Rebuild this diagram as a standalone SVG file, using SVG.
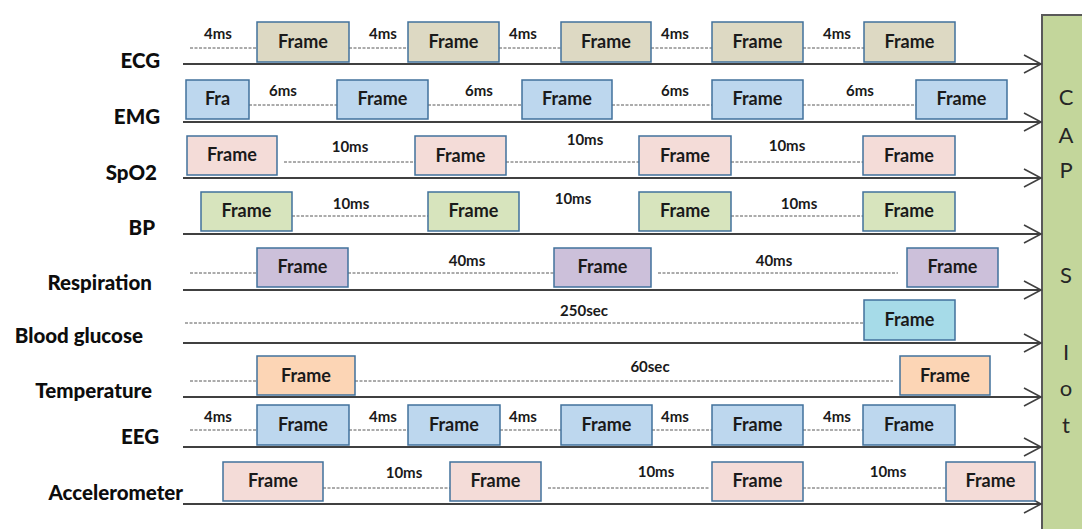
<svg xmlns="http://www.w3.org/2000/svg" width="1082" height="529" viewBox="0 0 1082 529">
<style>
  .fr { stroke: #41719c; stroke-width: 1.5; }
  .ecg { fill: #ddd9c3; }
  .blue { fill: #bdd7ee; }
  .pink { fill: #f4dcd8; }
  .green { fill: #d7e4bd; }
  .lav { fill: #ccc0da; }
  .cyan { fill: #a6dbe8; }
  .peach { fill: #fcd5b5; }
  .ft { font-family: Lato, "Liberation Sans", sans-serif; font-weight: bold; font-size: 18px; fill: #1a1a1a; text-anchor: middle; }
  .lbl { font-family: Lato, "Liberation Sans", sans-serif; font-weight: 900; font-size: 20.5px; fill: #0d0d0d; }
  .tm { font-family: Lato, "Liberation Sans", sans-serif; font-weight: bold; font-size: 15px; fill: #1a1a1a; text-anchor: middle; }
  .cap { font-family: Lato, "Liberation Sans", sans-serif; font-size: 22px; fill: #262626; text-anchor: middle; }
  .axis { stroke: #404040; stroke-width: 2; fill: none; }
  .dash { stroke: #595959; stroke-width: 1; stroke-dasharray: 3 1.5; fill: none; }
</style>
<defs>
  <marker id="arr" markerUnits="userSpaceOnUse" markerWidth="20" markerHeight="22" refX="18" refY="10" orient="auto" viewBox="0 0 20 22">
    <path d="M1,1 L18,10 L1,19" fill="none" stroke="#404040" stroke-width="1.6"/>
  </marker>
</defs>
<rect width="1082" height="529" fill="#ffffff"/>

<!-- CAPS IoT box -->
<g id="caps-iot">
  <rect x="1042" y="15" width="45" height="520" fill="#c3d69b" stroke="#595959" stroke-width="2"/>
  <text class="cap" x="1066" y="105">C</text>
  <text class="cap" x="1066" y="143">A</text>
  <text class="cap" x="1066" y="178">P</text>
  <text class="cap" x="1066" y="283">S</text>
  <text class="cap" x="1066" y="360">I</text>
  <text class="cap" x="1066" y="396">o</text>
  <text class="cap" x="1066" y="433">t</text>
</g>

<!-- Row labels -->
<g id="labels">
  <text class="lbl" x="160" y="68" text-anchor="end">ECG</text>
  <text class="lbl" x="160" y="124" text-anchor="end">EMG</text>
  <text class="lbl" x="157" y="180" text-anchor="end">SpO2</text>
  <text class="lbl" x="155" y="235" text-anchor="end">BP</text>
  <text class="lbl" x="152" y="290" text-anchor="end">Respiration</text>
  <text class="lbl" x="143" y="343" text-anchor="end">Blood glucose</text>
  <text class="lbl" x="152" y="398" text-anchor="end">Temperature</text>
  <text class="lbl" x="159" y="444" text-anchor="end">EEG</text>
  <text class="lbl" x="183" y="500" text-anchor="end">Accelerometer</text>
</g>

<!-- Connectors -->
<g id="connectors">
  <line class="axis" x1="183" y1="64" x2="1041" y2="64" marker-end="url(#arr)"/>
  <line class="axis" x1="183" y1="122" x2="1041" y2="122" marker-end="url(#arr)"/>
  <line class="axis" x1="183" y1="178" x2="1041" y2="178" marker-end="url(#arr)"/>
  <line class="axis" x1="183" y1="234" x2="1041" y2="234" marker-end="url(#arr)"/>
  <line class="axis" x1="183" y1="290" x2="1041" y2="290" marker-end="url(#arr)"/>
  <line class="axis" x1="183" y1="343" x2="1041" y2="343" marker-end="url(#arr)"/>
  <line class="axis" x1="183" y1="397" x2="1041" y2="397" marker-end="url(#arr)"/>
  <line class="axis" x1="183" y1="447" x2="1041" y2="447" marker-end="url(#arr)"/>
  <line class="axis" x1="183" y1="504" x2="1041" y2="504" marker-end="url(#arr)"/>

  <!-- ECG dashes -->
  <path class="dash" d="M190,48H257M349,48H408M499,48H561M651,48H712M803,48H864"/>
  <!-- EMG dashes -->
  <path class="dash" d="M249,105H337M428,105H522M612,105H712M803,105H916"/>
  <!-- SpO2 dashes -->
  <path class="dash" d="M284,162H415M506,162H639M731,162H863"/>
  <!-- BP dashes -->
  <path class="dash" d="M292,216H428M731,216H863"/>
  <!-- Respiration dashes -->
  <path class="dash" d="M190,273H257M348,273H554M658,273H898"/>
  <!-- Blood glucose dashes -->
  <path class="dash" d="M185,323H864"/>
  <!-- Temperature dashes -->
  <path class="dash" d="M190,381H257M355,381H893"/>
  <!-- EEG dashes -->
  <path class="dash" d="M190,430H257M349,430H408M500,430H561M652,430H712M803,430H863"/>
  <!-- Accelerometer dashes -->
  <path class="dash" d="M323,488H450M548,488H709M803,488H946"/>
</g>

<!-- Timing labels -->
<g id="timings">
  <text class="tm" x="218" y="39">4ms</text>
  <text class="tm" x="383" y="39">4ms</text>
  <text class="tm" x="523" y="39">4ms</text>
  <text class="tm" x="675" y="39">4ms</text>
  <text class="tm" x="837" y="39">4ms</text>

  <text class="tm" x="283" y="96">6ms</text>
  <text class="tm" x="479" y="96">6ms</text>
  <text class="tm" x="675" y="96">6ms</text>
  <text class="tm" x="860" y="96">6ms</text>

  <text class="tm" x="350" y="152">10ms</text>
  <text class="tm" x="585" y="145">10ms</text>
  <text class="tm" x="787" y="151">10ms</text>

  <text class="tm" x="351" y="209">10ms</text>
  <text class="tm" x="573" y="204">10ms</text>
  <text class="tm" x="799" y="209">10ms</text>

  <text class="tm" x="467" y="266">40ms</text>
  <text class="tm" x="774" y="266">40ms</text>

  <text class="tm" x="584" y="316">250sec</text>
  <text class="tm" x="650" y="372">60sec</text>

  <text class="tm" x="218" y="422">4ms</text>
  <text class="tm" x="383" y="422">4ms</text>
  <text class="tm" x="523" y="422">4ms</text>
  <text class="tm" x="675" y="422">4ms</text>
  <text class="tm" x="837" y="422">4ms</text>

  <text class="tm" x="404" y="478">10ms</text>
  <text class="tm" x="656" y="477">10ms</text>
  <text class="tm" x="888" y="477">10ms</text>
</g>

<!-- ECG frames -->
<g id="ecg-f1"><rect class="fr ecg" x="257" y="22" width="92" height="40"/><text class="ft" x="303" y="48">Frame</text></g>
<g id="ecg-f2"><rect class="fr ecg" x="408" y="22" width="91" height="40"/><text class="ft" x="453.5" y="48">Frame</text></g>
<g id="ecg-f3"><rect class="fr ecg" x="561" y="22" width="90" height="40"/><text class="ft" x="606" y="48">Frame</text></g>
<g id="ecg-f4"><rect class="fr ecg" x="712" y="22" width="91" height="40"/><text class="ft" x="757.5" y="48">Frame</text></g>
<g id="ecg-f5"><rect class="fr ecg" x="864" y="22" width="91" height="40"/><text class="ft" x="909.5" y="48">Frame</text></g>

<!-- EMG frames -->
<g id="emg-f1"><rect class="fr blue" x="186" y="80" width="63" height="39"/><text class="ft" x="217.5" y="105">Fra</text></g>
<g id="emg-f2"><rect class="fr blue" x="337" y="80" width="91" height="39"/><text class="ft" x="382.5" y="105">Frame</text></g>
<g id="emg-f3"><rect class="fr blue" x="522" y="80" width="90" height="39"/><text class="ft" x="567" y="105">Frame</text></g>
<g id="emg-f4"><rect class="fr blue" x="712" y="80" width="91" height="39"/><text class="ft" x="757.5" y="105">Frame</text></g>
<g id="emg-f5"><rect class="fr blue" x="916" y="80" width="91" height="39"/><text class="ft" x="961.5" y="105">Frame</text></g>

<!-- SpO2 frames -->
<g id="spo2-f1"><rect class="fr pink" x="187" y="136" width="90" height="39"/><text class="ft" x="232" y="161">Frame</text></g>
<g id="spo2-f2"><rect class="fr pink" x="415" y="136" width="91" height="39"/><text class="ft" x="460.5" y="162">Frame</text></g>
<g id="spo2-f3"><rect class="fr pink" x="639" y="136" width="92" height="39"/><text class="ft" x="685" y="162">Frame</text></g>
<g id="spo2-f4"><rect class="fr pink" x="863" y="136" width="92" height="39"/><text class="ft" x="909" y="162">Frame</text></g>

<!-- BP frames -->
<g id="bp-f1"><rect class="fr green" x="201" y="192" width="91" height="39"/><text class="ft" x="246.5" y="217">Frame</text></g>
<g id="bp-f2"><rect class="fr green" x="428" y="192" width="91" height="39"/><text class="ft" x="473.5" y="217">Frame</text></g>
<g id="bp-f3"><rect class="fr green" x="639" y="192" width="92" height="39"/><text class="ft" x="685" y="217">Frame</text></g>
<g id="bp-f4"><rect class="fr green" x="863" y="192" width="92" height="39"/><text class="ft" x="909" y="217">Frame</text></g>

<!-- Respiration frames -->
<g id="resp-f1"><rect class="fr lav" x="257" y="248" width="91" height="39"/><text class="ft" x="302.5" y="273">Frame</text></g>
<g id="resp-f2"><rect class="fr lav" x="554" y="248" width="97" height="39"/><text class="ft" x="602.5" y="273">Frame</text></g>
<g id="resp-f3"><rect class="fr lav" x="907" y="248" width="91" height="39"/><text class="ft" x="952.5" y="273">Frame</text></g>

<!-- Blood glucose frame -->
<g id="glucose-f1"><rect class="fr cyan" x="864" y="300" width="91" height="40"/><text class="ft" x="909.5" y="326">Frame</text></g>

<!-- Temperature frames -->
<g id="temp-f1"><rect class="fr peach" x="257" y="356" width="98" height="39"/><text class="ft" x="306" y="382">Frame</text></g>
<g id="temp-f2"><rect class="fr peach" x="900" y="356" width="90" height="39"/><text class="ft" x="945" y="382">Frame</text></g>

<!-- EEG frames -->
<g id="eeg-f1"><rect class="fr blue" x="257" y="405" width="92" height="40"/><text class="ft" x="303" y="431">Frame</text></g>
<g id="eeg-f2"><rect class="fr blue" x="408" y="405" width="92" height="40"/><text class="ft" x="454" y="431">Frame</text></g>
<g id="eeg-f3"><rect class="fr blue" x="561" y="405" width="91" height="40"/><text class="ft" x="606.5" y="431">Frame</text></g>
<g id="eeg-f4"><rect class="fr blue" x="712" y="405" width="91" height="40"/><text class="ft" x="757.5" y="431">Frame</text></g>
<g id="eeg-f5"><rect class="fr blue" x="863" y="405" width="92" height="40"/><text class="ft" x="909" y="431">Frame</text></g>

<!-- Accelerometer frames -->
<g id="acc-f1"><rect class="fr pink" x="223" y="462" width="100" height="39"/><text class="ft" x="273" y="487">Frame</text></g>
<g id="acc-f2"><rect class="fr pink" x="450" y="462" width="91" height="39"/><text class="ft" x="495.5" y="487">Frame</text></g>
<g id="acc-f3"><rect class="fr pink" x="712" y="462" width="91" height="39"/><text class="ft" x="757.5" y="487">Frame</text></g>
<g id="acc-f4"><rect class="fr pink" x="946" y="462" width="89" height="39"/><text class="ft" x="990.5" y="487">Frame</text></g>
</svg>
